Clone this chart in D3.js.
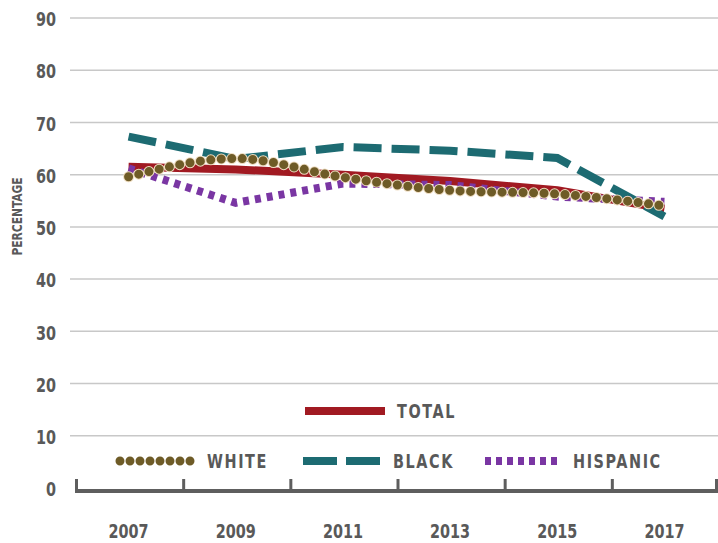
<!DOCTYPE html>
<html>
<head>
<meta charset="utf-8">
<script src="https://cdn.jsdelivr.net/npm/d3@7"></script>
<style>
	body { margin: 0; background: #fff; }
	svg text {
		font-family: "DejaVu Sans", sans-serif;
		font-stretch: condensed;
		font-weight: bold;
		fill: #595959;
	}
</style>
</head>
<body>
<div id="chart"></div>
<script>
// years shown on the x axis
const years = [2007, 2009, 2011, 2013, 2015, 2017];
const yTicks = [0, 10, 20, 30, 40, 50, 60, 70, 80, 90];

// percentages
const total    = [61.5, 61.0, 60.0, 58.8, 57.0, 53.5];
const white    = [59.6, 63.1, 59.5, 57.0, 56.3, 54.0];
const black    = [67.3, 63.0, 65.3, 64.6, 63.2, 52.0];
const hispanic = [61.2, 54.6, 58.3, 58.0, 55.8, 54.8];

const width = 718, height = 543;
const squeeze = 0.8; // no condensed font installed, so narrow the glyphs by hand

const svg = d3.select("#chart")
	.append("svg")
		.attr("width", width)
		.attr("height", height);

// band scale: ticks on band edges, points in band middles
const x = d3.scaleBand()
	.domain(years)
	.range([75, 718])
	.padding(0);
const xMid = d => x(d) + x.bandwidth() / 2;

const y = d3.scaleLinear()
	.domain([0, 90])
	.range([488, 18]);

// gridlines + y labels
svg.append("g")
	.selectAll("line")
	.data(yTicks.filter(d => d > 0))
	.join("line")
		.attr("x1", 70)
		.attr("x2", width)
		.attr("y1", d => y(d))
		.attr("y2", d => y(d))
		.attr("stroke", "#c8c8c8")
		.attr("stroke-width", 1.5);

svg.append("g")
	.selectAll("text")
	.data(yTicks)
	.join("text")
		.attr("transform", d => "translate(56," + (y(d) + 1) + ") scale(" + squeeze + ",1)")
		.attr("dy", "0.36em")
		.attr("text-anchor", "end")
		.attr("font-size", 20)
		.text(d => d);

svg.append("text")
	.attr("transform", "translate(22," + y(52) + ") rotate(-90) scale(0.85,1)")
	.attr("text-anchor", "middle")
	.attr("font-size", 14)
	.text("PERCENTAGE");

// x axis: thick baseline with ticks pointing up at band edges
const axisY = 491;
const edges = years.map(d => x(d)).concat([x.range()[1]]);
const axis = svg.append("g");
axis.append("line")
	.attr("x1", 75).attr("x2", width)
	.attr("y1", axisY).attr("y2", axisY)
	.attr("stroke", "#5e5e5e")
	.attr("stroke-width", 4);
axis.selectAll(".tick")
	.data(edges)
	.join("line")
		.attr("class", "tick")
		.attr("x1", d => Math.min(d + 1.5, width - 1.5))
		.attr("x2", d => Math.min(d + 1.5, width - 1.5))
		.attr("y1", axisY)
		.attr("y2", axisY - 12)
		.attr("stroke", "#5e5e5e")
		.attr("stroke-width", 3);
axis.selectAll("text")
	.data(years)
	.join("text")
		.attr("transform", d => "translate(" + xMid(d) + ",538) scale(" + squeeze + ",1)")
		.attr("text-anchor", "middle")
		.attr("font-size", 20)
		.text(d => d);

// series
const line = d3.line()
	.x((d, i) => xMid(years[i]))
	.y(d => y(d));
const curved = d3.line()
	.x((d, i) => xMid(years[i]))
	.y(d => y(d))
	.curve(d3.curveMonotoneX);

const colors = {
	total: "#a11a22",
	white: "#6e5b27",
	black: "#1d6b72",
	hispanic: "#7a36a3"
};

svg.append("path")
	.datum(total)
	.attr("fill", "none")
	.attr("stroke", colors.total)
	.attr("stroke-width", 8)
	.attr("d", line);

svg.append("path")
	.datum(black)
	.attr("fill", "none")
	.attr("stroke", colors.black)
	.attr("stroke-width", 8)
	.attr("stroke-dasharray", "28 10")
	.attr("d", line);

svg.append("path")
	.datum(hispanic)
	.attr("fill", "none")
	.attr("stroke", colors.hispanic)
	.attr("stroke-width", 8)
	.attr("stroke-dasharray", "6 6")
	.attr("d", line);

// white dots with a pale rim
svg.append("path")
	.datum(white)
	.attr("fill", "none")
	.attr("stroke", "#eedcc0")
	.attr("stroke-width", 11)
	.attr("stroke-linecap", "round")
	.attr("stroke-dasharray", "0 10.5")
	.attr("d", curved);
svg.append("path")
	.datum(white)
	.attr("fill", "none")
	.attr("stroke", colors.white)
	.attr("stroke-width", 9)
	.attr("stroke-linecap", "round")
	.attr("stroke-dasharray", "0 10.5")
	.attr("d", curved);

// legend
const legend = [
	{name: "TOTAL", color: colors.total, x1: 305, x2: 385, y: 411, dash: null, cap: "butt", w: 8},
	{name: "WHITE", color: colors.white, x1: 120, x2: 195, y: 461, dash: "0 10", cap: "round", w: 9},
	{name: "BLACK", color: colors.black, x1: 303, x2: 381, y: 461, dash: "34 9", cap: "butt", w: 8},
	{name: "HISPANIC", color: colors.hispanic, x1: 485, x2: 561, y: 461, dash: "6 5", cap: "butt", w: 8}
];
const lg = svg.append("g")
	.selectAll("g")
	.data(legend)
	.join("g");
lg.append("line")
	.attr("x1", d => d.x1)
	.attr("x2", d => d.x2)
	.attr("y1", d => d.y)
	.attr("y2", d => d.y)
	.attr("stroke", d => d.color)
	.attr("stroke-width", d => d.w)
	.attr("stroke-linecap", d => d.cap)
	.attr("stroke-dasharray", d => d.dash);
lg.append("text")
	.attr("transform", d => "translate(" + (d.x2 + 12) + "," + d.y + ") scale(" + squeeze + ",1)")
	.attr("dy", "0.36em")
	.attr("font-size", 20)
	.attr("letter-spacing", 2)
	.text(d => d.name);
</script>
</body>
</html>
